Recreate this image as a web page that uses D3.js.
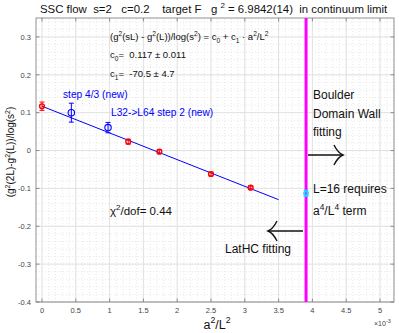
<!DOCTYPE html>
<html><head><meta charset="utf-8">
<script src="https://cdn.jsdelivr.net/npm/d3@7"></script>
<style>
body{margin:0;background:#fff;}
svg{display:block;font-family:"Liberation Sans",Arial,Helvetica,sans-serif;}
</style></head>
<body><svg id="c" width="399" height="333"></svg>
<script>
// ---- data (x in units of 1e-3 : a^2/L^2) ----
const redX   = [0, 1.2755, 1.7361, 2.5, 3.0864];
const redY   = [0.117, 0.0235, -0.003, -0.062, -0.098];
const redErr = [0.011, 0.0065, 0.005, 0.005, 0.004];
const blueX   = [0.4340, 0.9766];
const blueY   = [0.100, 0.0605];
const blueErr = [0.025, 0.0137];
const cyanX = [3.90625];
const cyanY = [-0.113];
const cyanErr = [0.008];
const fitC0 = 0.117, fitC1 = -70.5, fitRange = [0, 3.5];
const limitX = 3.90625;
const xTicks = [0,0.5,1,1.5,2,2.5,3,3.5,4,4.5,5];
const xTickLabels = ["0","0.5","1","1.5","2","2.5","3","3.5","4","4.5","5"];
const yTicks = [-0.4,-0.3,-0.2,-0.1,0,0.1,0.2,0.3];
const yTickLabels = ["-0.4","-0.3","-0.2","-0.1","0","0.1","0.2","0.3"];

const svg = d3.select("#c");
const x = d3.scaleLinear().domain([0,5]).range([42,380]);
const y = d3.scaleLinear().domain([-0.4,0.35]).range([302,18]);
const X0 = 36, X1 = 394, Y0 = 302, Y1 = 18;
const xmin = x.invert(X0), xmax = x.invert(X1);

const g = svg.append("g");
// minor grid
const minorX = d3.range(Math.ceil(xmin*10), Math.floor(xmax*10)+1).map(d=>d/10);
const minorY = d3.range(-20, 18).map(d=>d*0.02);
g.selectAll(".mx").data(minorX).enter().append("line")
 .attr("x1",d=>x(d)).attr("x2",d=>x(d)).attr("y1",Y0).attr("y2",Y1)
 .attr("stroke","#d8d8d8").attr("stroke-width",0.6).attr("stroke-dasharray","1,2");
g.selectAll(".my").data(minorY).enter().append("line")
 .attr("y1",d=>y(d)).attr("y2",d=>y(d)).attr("x1",X0).attr("x2",X1)
 .attr("stroke","#d8d8d8").attr("stroke-width",0.6).attr("stroke-dasharray","1,2");
// major grid
g.selectAll(".gx").data(xTicks).enter().append("line")
 .attr("x1",d=>x(d)).attr("x2",d=>x(d)).attr("y1",Y0).attr("y2",Y1)
 .attr("stroke","#e2e2e2").attr("stroke-width",1);
g.selectAll(".gy").data(yTicks).enter().append("line")
 .attr("y1",d=>y(d)).attr("y2",d=>y(d)).attr("x1",X0).attr("x2",X1)
 .attr("stroke","#e2e2e2").attr("stroke-width",1);

// axes box and ticks
const axc = "#777";
g.append("rect").attr("x",X0).attr("y",Y1).attr("width",X1-X0).attr("height",Y0-Y1)
 .attr("fill","none").attr("stroke",axc).attr("stroke-width",0.8);
const tl = 3.5;
xTicks.forEach(t=>{
  g.append("line").attr("x1",x(t)).attr("x2",x(t)).attr("y1",Y0).attr("y2",Y0-tl).attr("stroke",axc).attr("stroke-width",0.8);
  g.append("line").attr("x1",x(t)).attr("x2",x(t)).attr("y1",Y1).attr("y2",Y1+tl).attr("stroke",axc).attr("stroke-width",0.8);
});
yTicks.forEach(t=>{
  g.append("line").attr("y1",y(t)).attr("y2",y(t)).attr("x1",X0).attr("x2",X0+tl).attr("stroke",axc).attr("stroke-width",0.8);
  g.append("line").attr("y1",y(t)).attr("y2",y(t)).attr("x1",X1).attr("x2",X1-tl).attr("stroke",axc).attr("stroke-width",0.8);
});
const tickCol = "#444";
g.selectAll(".xl").data(xTicks).enter().append("text")
 .attr("x",d=>x(d)).attr("y",313).attr("text-anchor","middle")
 .attr("font-size","7.5px").attr("fill",tickCol).text((d,i)=>xTickLabels[i]);
g.selectAll(".yl").data(yTicks).enter().append("text")
 .attr("x",31).attr("y",d=>y(d)+2.7).attr("text-anchor","end")
 .attr("font-size","7.5px").attr("fill",tickCol).text((d,i)=>yTickLabels[i]);

// x10^-3
const e3 = g.append("text").attr("x",374).attr("y",326).attr("font-size","7px").attr("fill",tickCol);
e3.append("tspan").text("\u00d710");
e3.append("tspan").attr("dy",-3).attr("font-size","5.5px").text("-3");

// magenta line
g.append("line").attr("x1",x(limitX)).attr("x2",x(limitX)).attr("y1",Y1).attr("y2",Y0)
 .attr("stroke","#ff00ff").attr("stroke-width",3);

// fit line
g.append("line").attr("x1",x(fitRange[0])).attr("x2",x(fitRange[1]))
 .attr("y1",y(fitC0+fitC1*fitRange[0]*1e-3)).attr("y2",y(fitC0+fitC1*fitRange[1]*1e-3))
 .attr("stroke","#0000ff").attr("stroke-width",1);

function series(xs, ys, es, col, r, sw){
  const cap = 2.5;
  xs.forEach((xv,i)=>{
    const cx = x(xv), cy = y(ys[i]), t = y(ys[i]+es[i]), b = y(ys[i]-es[i]);
    g.append("line").attr("x1",cx).attr("x2",cx).attr("y1",t).attr("y2",b).attr("stroke",col).attr("stroke-width",1);
    g.append("line").attr("x1",cx-cap).attr("x2",cx+cap).attr("y1",t).attr("y2",t).attr("stroke",col).attr("stroke-width",1);
    g.append("line").attr("x1",cx-cap).attr("x2",cx+cap).attr("y1",b).attr("y2",b).attr("stroke",col).attr("stroke-width",1);
    g.append("circle").attr("cx",cx).attr("cy",cy).attr("r",r).attr("fill","none").attr("stroke",col).attr("stroke-width",sw);
  });
}
series(redX, redY, redErr, "#ff0000", 2.4, 1.4);
series(blueX, blueY, blueErr, "#0000ff", 3.2, 1.1);
series(cyanX, cyanY, cyanErr, "#00e5ff", 2.2, 1.4);

// helper for text with superscripts/subscripts
function rich(xp, yp, size, col, parts, anchor){
  const t = g.append("text").attr("x",xp).attr("y",yp).attr("font-size",size+"px").attr("fill",col)
    .attr("text-anchor",anchor||"start").style("white-space","pre");
  let state = 0;
  parts.forEach(p=>{
    const ty = p[1]||"n";
    const s = t.append("tspan").text(p[0]);
    let target = ty==="sup" ? -size*0.45 : ty==="sub" ? size*0.3 : 0;
    s.attr("dy", target - state); state = target;
    if(ty!=="n") s.attr("font-size",(size*0.7)+"px");
  });
  return t;
}

// title
rich(40, 13, 11.4, "#111", [["SSC flow  s=2   c=0.2    target F   g "],["2","sup"],[" = 6.9842(14)  in continuum limit"]]);

// axis labels
rich(217, 329, 12.5, "#111", [["a"],["2","sup"],["/L"],["2","sup"]], "middle");
const yl = rich(0, 0, 10, "#111", [["(g"],["2","sup"],["(2L)-g"],["2","sup"],["(L))/log(s"],["2","sup"],[")"]], "middle");
yl.attr("transform","translate(14,152) rotate(-90)");

// annotations
rich(110, 40, 9.5, "#111", [["(g"],["2","sup"],["(sL) - g"],["2","sup"],["(L))/log(s"],["2","sup"],[") = c"],["0","sub"],[" + c"],["1","sub"],[" \u00b7 a"],["2","sup"],["/L"],["2","sup"]]);
rich(110, 58, 9.5, "#111", [["c"],["0","sub"],["=  0.117 \u00b1 0.011"]]);
rich(110, 77, 9.5, "#111", [["c"],["1","sub"],["=  -70.5 \u00b1 4.7"]]);
rich(63, 98, 10.2, "#0000ff", [["step 4/3 (new)"]]);
rich(111, 116, 10.2, "#0000ff", [["L32->L64 step 2 (new)"]]);
rich(110, 215, 11.5, "#111", [["\u03c7"],["2","sup"],["/dof= 0.44"]]);
rich(313, 99, 12, "#111", [["Boulder"]]);
rich(313, 118, 12, "#111", [["Domain Wall"]]);
rich(313, 136, 12, "#111", [["fitting"]]);
rich(313, 193, 12, "#111", [["L=16 requires"]]);
rich(313, 215, 12, "#111", [["a"],["4","sup"],["/L"],["4","sup"],[" term"]]);
rich(225, 253, 12, "#111", [["LatHC fitting"]]);

// arrows
function arrow(x1, x2, yy){
  const dir = Math.sign(x2-x1);
  g.append("line").attr("x1",x1).attr("x2",x2).attr("y1",yy).attr("y2",yy).attr("stroke","#111").attr("stroke-width",1.4);
  const bx = x2 - dir*9;
  const p = `M${bx},${yy-10} Q${x2-dir*5},${yy-2} ${x2},${yy} Q${x2-dir*5},${yy+2} ${bx},${yy+10}`;
  g.append("path").attr("d",p).attr("fill","none").attr("stroke","#111").attr("stroke-width",1.4);
}
arrow(308, 343, 155);
arrow(303, 268, 231);
</script></body></html>
